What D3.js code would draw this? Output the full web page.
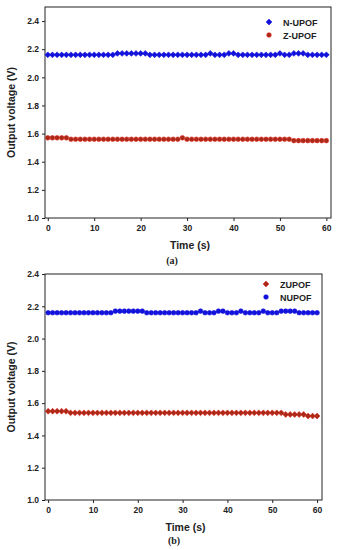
<!DOCTYPE html>
<html>
<head>
<meta charset="utf-8">
<script src="https://cdn.jsdelivr.net/npm/d3@7"></script>
<style>
  body { margin: 0; background: #fff; }
  svg { display: block; }
  .tick text { font-family: "Liberation Sans", Arial, sans-serif; font-weight: bold; font-size: 8.5px; fill: #222; }
</style>
</head>
<body>
<svg id="chart" width="337" height="550"></svg>
<script>
// time axis, one reading per second
const times = d3.range(0, 61);

// panel (a)
const nUpofA = [2.16,2.16,2.16,2.16,2.16,2.16,2.16,2.16,2.16,2.16,2.16,2.16,2.16,2.16,2.16,2.17,2.17,2.17,2.17,2.17,2.17,2.17,2.16,2.16,2.16,2.16,2.16,2.16,2.16,2.16,2.16,2.16,2.16,2.16,2.16,2.17,2.16,2.16,2.16,2.17,2.17,2.16,2.16,2.16,2.16,2.16,2.16,2.16,2.16,2.16,2.17,2.16,2.16,2.17,2.17,2.17,2.16,2.16,2.16,2.16,2.16];
const zUpofA = [1.57,1.57,1.57,1.57,1.57,1.56,1.56,1.56,1.56,1.56,1.56,1.56,1.56,1.56,1.56,1.56,1.56,1.56,1.56,1.56,1.56,1.56,1.56,1.56,1.56,1.56,1.56,1.56,1.56,1.57,1.56,1.56,1.56,1.56,1.56,1.56,1.56,1.56,1.56,1.56,1.56,1.56,1.56,1.56,1.56,1.56,1.56,1.56,1.56,1.56,1.56,1.56,1.56,1.55,1.55,1.55,1.55,1.55,1.55,1.55,1.55];

// panel (b)
const nUpofB = [2.16,2.16,2.16,2.16,2.16,2.16,2.16,2.16,2.16,2.16,2.16,2.16,2.16,2.16,2.16,2.17,2.17,2.17,2.17,2.17,2.17,2.17,2.16,2.16,2.16,2.16,2.16,2.16,2.16,2.16,2.16,2.16,2.16,2.16,2.17,2.16,2.16,2.16,2.17,2.17,2.16,2.16,2.16,2.17,2.16,2.16,2.16,2.16,2.17,2.16,2.16,2.16,2.17,2.17,2.17,2.17,2.16,2.16,2.16,2.16,2.16];
const zUpofB = [1.55,1.55,1.55,1.55,1.55,1.54,1.54,1.54,1.54,1.54,1.54,1.54,1.54,1.54,1.54,1.54,1.54,1.54,1.54,1.54,1.54,1.54,1.54,1.54,1.54,1.54,1.54,1.54,1.54,1.54,1.54,1.54,1.54,1.54,1.54,1.54,1.54,1.54,1.54,1.54,1.54,1.54,1.54,1.54,1.54,1.54,1.54,1.54,1.54,1.54,1.54,1.54,1.54,1.53,1.53,1.53,1.53,1.53,1.52,1.52,1.52];

const xTicks = [0, 10, 20, 30, 40, 50, 60];
const yTicks = [1.0, 1.2, 1.4, 1.6, 1.8, 2.0, 2.2, 2.4];

const blue = "#1212dc";
const redFill = "#a82a18";
const redEdge = "#e0261c";

const svg = d3.select("#chart");

const drawPanel = (p) => {
    const x = d3.scaleLinear().domain(p.xDomain).range([p.left, p.right]);
    const y = d3.scaleLinear().domain(p.yDomain).range([p.bottom, p.top]);
    const g = svg.append("g");

    g.append("g")
        .attr("transform", `translate(0,${p.bottom})`)
        .call(d3.axisBottom(x).tickValues(xTicks).tickFormat(d3.format("d")).tickSize(3).tickPadding(4))
        .call(a => a.select(".domain").remove());

    g.append("g")
        .attr("transform", `translate(${p.left},0)`)
        .call(d3.axisLeft(y).tickValues(yTicks).tickFormat(d3.format(".1f")).tickSize(3).tickPadding(3))
        .call(a => a.select(".domain").remove());

    g.selectAll(".tick line").attr("stroke", "#222");

    g.append("rect")
        .attr("x", p.left).attr("y", p.top)
        .attr("width", p.right - p.left).attr("height", p.bottom - p.top)
        .attr("fill", "none").attr("stroke", "#222").attr("stroke-width", 1);

    p.series.forEach(s => {
        const sym = d3.symbol().type(s.shape).size(s.size);
        g.append("g").selectAll("path")
            .data(s.values)
            .join("path")
            .attr("d", sym)
            .attr("transform", (d, i) => `translate(${x(times[i])},${y(d)})`)
            .attr("fill", s.fill)
            .attr("stroke", s.stroke)
            .attr("stroke-width", 0.6);
    });

    // legend
    p.legend.forEach((s, i) => {
        const ly = p.legendY + i * 13;
        g.append("path")
            .attr("d", d3.symbol().type(s.shape).size(s.size)())
            .attr("transform", `translate(${p.legendX},${ly})`)
            .attr("fill", s.fill).attr("stroke", s.stroke).attr("stroke-width", 0.6);
        g.append("text")
            .attr("x", p.legendX + 14).attr("y", ly + 3.5)
            .attr("font-family", "Liberation Sans, Arial, sans-serif")
            .attr("font-weight", "bold").attr("font-size", 9).attr("fill", "#222")
            .text(s.label);
    });

    g.append("text")
        .attr("x", (p.left + p.right) / 2 + 2).attr("y", p.bottom + 31)
        .attr("text-anchor", "middle")
        .attr("font-family", "Liberation Sans, Arial, sans-serif")
        .attr("font-weight", "bold").attr("font-size", 10.5).attr("fill", "#222")
        .text("Time (s)");

    g.append("text")
        .attr("transform", `translate(15,${(p.top + p.bottom) / 2}) rotate(-90)`)
        .attr("text-anchor", "middle")
        .attr("font-family", "Liberation Sans, Arial, sans-serif")
        .attr("font-weight", "bold").attr("font-size", 10.5).attr("fill", "#222")
        .text("Output voltage (V)");

    g.append("text")
        .attr("x", p.captionX).attr("y", p.captionY)
        .attr("text-anchor", "middle")
        .attr("font-family", "Liberation Serif, serif")
        .attr("font-weight", "bold")
        .attr("font-size", 10).attr("fill", "#222")
        .text(p.caption);
};

const diamondN = { shape: d3.symbolDiamond2, size: 22, fill: blue, stroke: blue };
const circleN = { shape: d3.symbolCircle, size: 17, fill: blue, stroke: blue };
const circleZ = { shape: d3.symbolCircle, size: 17, fill: redFill, stroke: redEdge };
const diamondZ = { shape: d3.symbolDiamond2, size: 22, fill: redFill, stroke: redEdge };

drawPanel({
    left: 45, right: 331, top: 7, bottom: 218,
    xDomain: [-0.6, 61], yDomain: [1.0, 2.5],
    series: [
        { ...diamondN, values: nUpofA },
        { ...circleZ, values: zUpofA }
    ],
    legend: [
        { ...diamondN, label: "N-UPOF" },
        { ...circleZ, label: "Z-UPOF" }
    ],
    legendX: 269, legendY: 22,
    caption: "(a)", captionX: 172, captionY: 264
});

drawPanel({
    left: 45, right: 322, top: 274, bottom: 500,
    xDomain: [-0.7, 61.1], yDomain: [1.0, 2.4],
    series: [
        { ...circleN, values: nUpofB },
        { ...diamondZ, values: zUpofB }
    ],
    legend: [
        { ...diamondZ, label: "ZUPOF" },
        { ...circleN, label: "NUPOF" }
    ],
    legendX: 266, legendY: 284,
    caption: "(b)", captionX: 174, captionY: 544
});
</script>
</body>
</html>
